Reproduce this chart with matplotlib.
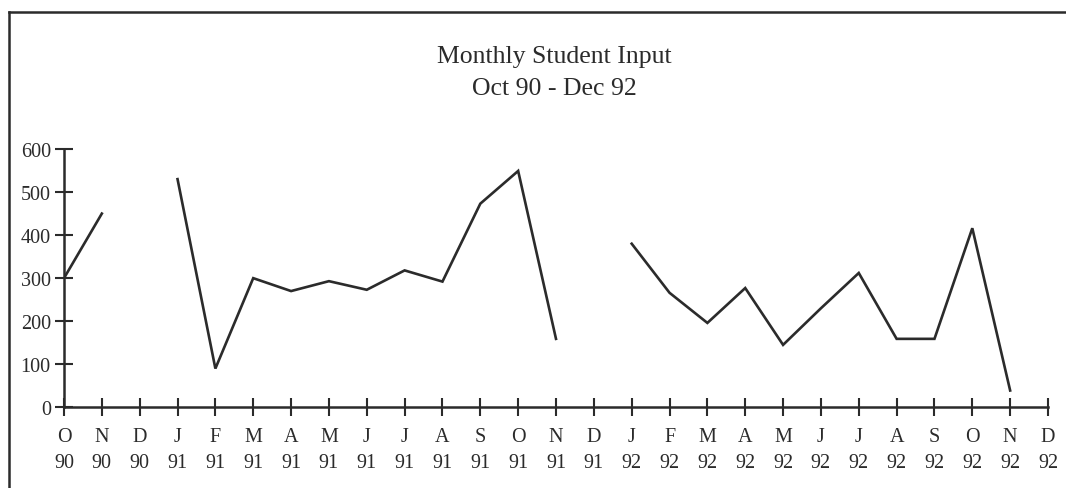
import numpy as np
import matplotlib
matplotlib.use('Agg')
import matplotlib.pyplot as plt
from matplotlib.lines import Line2D

# monthly student input, Oct 90 - Dec 92 (nan = no value plotted)
months = ['O', 'N', 'D', 'J', 'F', 'M', 'A', 'M', 'J', 'J', 'A', 'S',
          'O', 'N', 'D', 'J', 'F', 'M', 'A', 'M', 'J', 'J', 'A', 'S',
          'O', 'N', 'D']
years = ['90', '90', '90'] + ['91'] * 12 + ['92'] * 12
students = [300, 450, np.nan, 530, 90, 300, 270, 293, 273, 318, 292, 473,
            549, 159, np.nan, 380, 266, 196, 277, 145, 230, 312, 159, 159,
            416, 39, np.nan]
yticks = [0, 100, 200, 300, 400, 500, 600]

plt.rcParams['font.family'] = ['Liberation Serif', 'DejaVu Serif']
ink = '#2b2b2b'

W, H = 1066, 489
fig = plt.figure(figsize=(W / 100, H / 100), dpi=100)
ax = fig.add_axes([64 / W, (H - 408.3) / H, 984 / W, (408.3 - 150) / H])

x = np.arange(len(months))
ax.plot(x, students, color=ink, linewidth=1.9, solid_joinstyle='miter')

ax.set_xlim(0, len(months) - 1)
ax.set_ylim(0, 600)
ax.set_xticks(x)
ax.set_xticklabels([f'{m}\n{y}' for m, y in zip(months, years)],
                   linespacing=1.5)
ax.set_yticks(yticks)
ax.set_yticklabels([str(v) for v in yticks])

for s in ['top', 'right']:
    ax.spines[s].set_visible(False)
for s in ['left', 'bottom']:
    ax.spines[s].set_color(ink)
    ax.spines[s].set_linewidth(1.8)
ax.tick_params(direction='inout', length=13, width=1.5, color=ink,
               labelsize=14.5, labelcolor=ink)
ax.tick_params(axis='y', pad=3)
ax.tick_params(axis='x', pad=8)
ax.set_facecolor('none')

# titles
fig.text(554 / W, 1 - 57 / H, 'Monthly Student Input', ha='center',
         va='center', fontsize=18.5, color=ink)
fig.text(554 / W, 1 - 89 / H, 'Oct 90 - Dec 92', ha='center',
         va='center', fontsize=18.5, color=ink)

# page frame from the scan
fig.add_artist(Line2D([9 / W, 9 / W], [0, 1 - 13 / H], transform=fig.transFigure,
                      color=ink, linewidth=1.8))
fig.add_artist(Line2D([9 / W, 1], [1 - 13 / H, 1 - 13 / H], transform=fig.transFigure,
                      color=ink, linewidth=1.8))

fig.savefig('out.png', dpi=100)
